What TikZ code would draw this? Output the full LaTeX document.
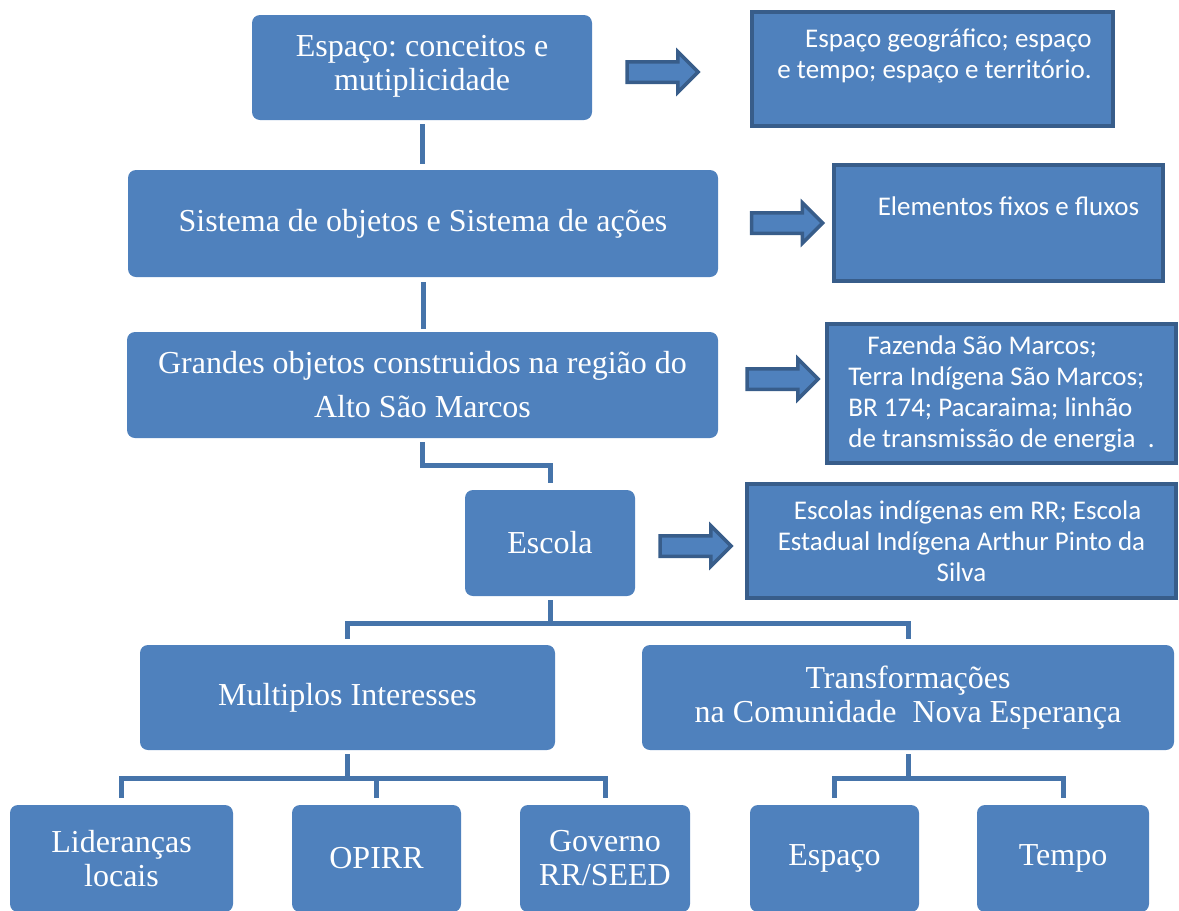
\documentclass[tikz,border=0pt]{standalone}
\usepackage{fontspec}
\setmainfont{Liberation Serif}
\newfontfamily\boxsans{Carlito}
\usepackage{tikz}
\usetikzlibrary{positioning,shapes.arrows}
\definecolor{cfill}{HTML}{4F81BD}
\definecolor{cedge}{HTML}{385D8A}
\definecolor{cline}{HTML}{4674AA}
\tikzset{
  conceptbox/.style={rounded corners=8pt, fill=cfill, text=white, align=center,
    inner sep=0pt, font=\fontsize{32}{34}\selectfont},
  infobox/.style={draw=cedge, line width=3.5pt, fill=cfill, text=white,
    inner sep=0pt, font=\boxsans\fontsize{27}{31}\selectfont},
  infotext/.style={text=white, inner sep=0pt, font=\boxsans\fontsize{27}{31}\selectfont},
  blockarrow/.style={single arrow, draw=cedge, fill=cfill, line width=3.5pt,
    minimum height=71pt, inner xsep=0pt, inner ysep=8.5pt, single arrow head extend=10pt},
  treeline/.style={draw=cline, line width=5pt}
}

\begin{document}
\begin{tikzpicture}[x=1pt, y=-1pt]
  \useasboundingbox (0,0) rectangle (1179,911);

  % main column
  \node[conceptbox, minimum width=340pt, minimum height=105pt] (espaco) at (422,67.5)
    {Espaço:\hspace{8pt}conceitos\hspace{8pt}e\\mutiplicidade\rule[-9pt]{0pt}{0pt}};
  \node[conceptbox, minimum width=590pt, minimum height=107pt] (sistema) at (423,223.5)
    {Sistema de objetos e Sistema de ações};
  \node[conceptbox, minimum width=591pt, minimum height=106pt] (grandes) at (422.5,385)
    {Grandes\ objetos construidos na região do\\[10pt]Alto São Marcos};
  \node[conceptbox, minimum width=170pt, minimum height=106pt] (escola) at (550,543) {Escola};
  \node[conceptbox, minimum width=415pt, minimum height=105pt] (multiplos) at (347.5,697.5)
    {Multiplos Interesses};
  \node[conceptbox, minimum width=532pt, minimum height=105pt] (transf) at (908,697.5)
    {Transformações\\na Comunidade\ \ Nova Esperança};

  % bottom row
  \node[conceptbox, minimum width=223pt, minimum height=107pt] (liderancas) at (121.5,858.5)
    {Lideranças\\locais};
  \node[conceptbox, minimum width=169pt, minimum height=107pt] (opirr) at (376.5,858.5) {OPIRR};
  \node[conceptbox, minimum width=170pt, minimum height=107pt] (governo) at (605,858.5)
    {Governo\\RR/SEED};
  \node[conceptbox, minimum width=169pt, minimum height=107pt] (espacob) at (834.5,858.5) {Espaço};
  \node[conceptbox, minimum width=172pt, minimum height=107pt] (tempo) at (1063,858.5) {Tempo};

  % right column
  \node[infobox, minimum width=361pt, minimum height=114pt] (geo) at (932.5,69) {};
  \node[infotext, align=right, below=18pt of geo.north, xshift=2pt] (geotext)
    {Espaço geográfico; espaço\\e tempo; espaço e território.};
  \node[infobox, minimum width=329pt, minimum height=116pt] (fixos) at (998.5,223) {};
  \node[infotext, below=33pt of fixos.north, xshift=10pt] (fixostext) {Elementos fixos e fluxos};
  \node[infobox, minimum width=349pt, minimum height=139pt, align=left] (fazenda) at (1001.5,393.5)
    {\hspace{19pt}Fazenda São Marcos;\\Terra Indígena São Marcos;\\BR 174; Pacaraima; linhão\\de transmissão de energia\ \ .};
  \node[infobox, minimum width=429pt, minimum height=114pt, align=center] (escolas) at (961.5,541)
    {\ \ Escolas indígenas em RR; Escola\\Estadual Indígena Arthur Pinto da\\Silva};

  % block arrows
  \node[blockarrow] (arrgeo) at (657.5,72) {};
  \node[blockarrow] (arrfixos) at (782,223) {};
  \node[blockarrow] (arrfazenda) at (777.5,379) {};
  \node[blockarrow] (arrescolas) at (690.5,546) {};

  % tree lines
  \draw[treeline, shorten <=4pt, shorten >=6pt] (espaco.south) -- (espaco.south |- sistema.north);
  \draw[treeline, shorten <=5pt, shorten >=3pt] (sistema.south) -- (sistema.south |- grandes.north);
  \draw[treeline, shorten <=4pt, shorten >=7pt] (grandes.south) -- ++(0,27) -| (escola.north);

  \draw[treeline, shorten <=4pt] (escola.south) -- ++(0,27) coordinate (escjoin);
  \draw[treeline, shorten >=6pt] (escjoin) -| (multiplos.north);
  \draw[treeline, shorten >=6pt] (escjoin) -| (transf.north);

  \draw[treeline, shorten <=4pt] (multiplos.south) -- ++(0,28) coordinate (multjoin);
  \draw[treeline, shorten >=7pt] (multjoin) -| (liderancas.north);
  \draw[treeline, shorten >=7pt] (multjoin) -| (opirr.north);
  \draw[treeline, shorten >=7pt] (multjoin) -| (governo.north);

  \draw[treeline, shorten <=4pt] (transf.south) -- ++(0,28) coordinate (transfjoin);
  \draw[treeline, shorten >=7pt] (transfjoin) -| (espacob.north);
  \draw[treeline, shorten >=7pt] (transfjoin) -| (tempo.north);
\end{tikzpicture}
\end{document}
